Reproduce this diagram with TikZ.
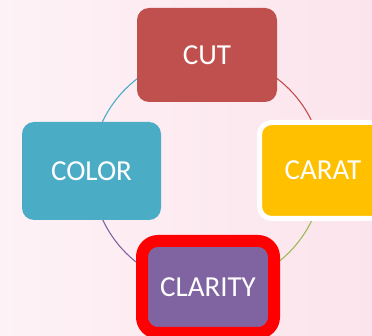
\documentclass[tikz,border=0pt]{standalone}
\usepackage{fontspec}
\setmainfont{Carlito}
\definecolor{cutred}{HTML}{C0504D}
\definecolor{colorblue}{HTML}{4BACC6}
\definecolor{caratgold}{HTML}{FFC000}
\definecolor{claritypurple}{HTML}{8064A2}
\definecolor{ringgreen}{HTML}{9BBB59}
\definecolor{paperlight}{RGB}{253,242,246}
\definecolor{paperpink}{RGB}{252,228,236}
\pgfdeclarelayer{paper}
\pgfdeclarelayer{ring}
\pgfsetlayers{paper,ring,main}

\begin{document}
\begin{tikzpicture}[
        x=1pt, y=-1pt,
        facet/.style={rectangle,rounded corners=12pt,text=white,
            font=\fontsize{29}{34}\selectfont},
        ringarc/.style={line width=1.1pt}
    ]

    \useasboundingbox (0,0) rectangle (372,336);

    \node[facet,fill=cutred,minimum width=140pt,minimum height=94pt]
        (cut) at (207,55) {CUT};
    \node[facet,fill=colorblue,minimum width=139pt,minimum height=98pt]
        (color) at (91.5,171) {COLOR};
    \node[facet,fill=caratgold,draw=white,line width=5pt,
        minimum width=127pt,minimum height=96pt]
        (carat) at (323,170.5) {CARAT};
    \node[facet,fill=claritypurple,draw=red,line width=12pt,
        rounded corners=16pt,minimum width=132pt,minimum height=92pt]
        (clarity) at (208,287) {CLARITY};

    \begin{pgfonlayer}{paper}
        \shade[left color=paperlight,right color=paperpink]
            (0,0) rectangle (372,336);
    \end{pgfonlayer}

    % y is flipped, so the angles run clockwise on the page
    \begin{pgfonlayer}{ring}
        \draw[ringarc,cutred] (cut.center) arc[start angle=-90,end angle=0,radius=116];
        \draw[ringarc,ringgreen] (carat.center) arc[start angle=0,end angle=90,radius=116];
        \draw[ringarc,claritypurple] (clarity.center) arc[start angle=90,end angle=180,radius=116];
        \draw[ringarc,colorblue] (color.center) arc[start angle=180,end angle=270,radius=116];
    \end{pgfonlayer}

\end{tikzpicture}
\end{document}
